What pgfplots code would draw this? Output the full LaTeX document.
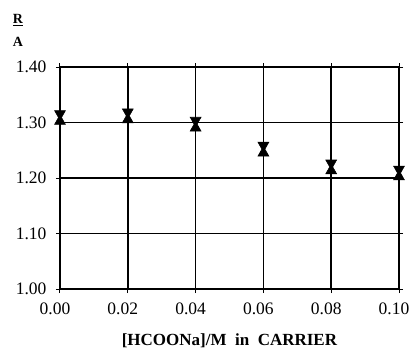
\documentclass[border=0pt]{standalone}
\usepackage{fontspec}
\setmainfont{Liberation Serif}
\usepackage{pgfplots}
\pgfplotsset{compat=1.18}
\pgfdeclareplotmark{hourglass}{%
  \pgfpathmoveto{\pgfqpoint{-0.9\pgfplotmarksize}{1.15\pgfplotmarksize}}%
  \pgfpathlineto{\pgfqpoint{0.9\pgfplotmarksize}{1.15\pgfplotmarksize}}%
  \pgfpathlineto{\pgfqpoint{0.25\pgfplotmarksize}{0pt}}%
  \pgfpathlineto{\pgfqpoint{0.9\pgfplotmarksize}{-1.15\pgfplotmarksize}}%
  \pgfpathlineto{\pgfqpoint{-0.9\pgfplotmarksize}{-1.15\pgfplotmarksize}}%
  \pgfpathlineto{\pgfqpoint{-0.25\pgfplotmarksize}{0pt}}%
  \pgfpathclose
  \pgfusepathqfillstroke}
\begin{document}
\begin{tikzpicture}
\useasboundingbox (-60pt,-60pt) rectangle (351pt,289pt);
\begin{axis}[
  at={(0pt,0pt)}, anchor=origin,
  scale only axis,
  width=339pt, height=222pt,
  xmin=0, xmax=0.1, ymin=1, ymax=1.4,
  xtick={0,0.02,0.04,0.06,0.08,0.1},
  ytick={1.0,1.1,1.2,1.3,1.4},
  grid=major,
  major grid style={black, line width=1.5pt},
  axis line style={black, line width=1.5pt},
  tick style={black, line width=1pt},
  tick align=outside,
  major tick length=4pt,
  /pgf/number format/fixed,
  /pgf/number format/fixed zerofill,
  /pgf/number format/precision=2,
  /pgf/number format/assume math mode=true,
  tick label style={font=\fontsize{17.5}{20}\selectfont},
  xticklabel style={yshift=-6pt, xshift=-5pt},
  yticklabel style={xshift=-6pt},
  scaled ticks=false,
  xlabel={\textbf{[HCOONa]/M\ \ in\ \ CARRIER}},
  xlabel style={font=\fontsize{17}{19}\selectfont, yshift=-12pt},
  clip=false,
]
\addplot[only marks, mark=hourglass, mark size=6pt, mark options={fill=black, draw=black, line width=0.6pt}]
  coordinates {(0,1.309) (0.02,1.312) (0.04,1.297) (0.06,1.252) (0.08,1.220) (0.1,1.209)};
\node[font=\fontsize{14}{16}\selectfont\bfseries, inner sep=0pt] at (rel axis cs:-0.124,1.212) {\underline{R}};
\node[font=\fontsize{14}{16}\selectfont\bfseries, inner sep=0pt] at (rel axis cs:-0.124,1.113) {A};
\end{axis}
\end{tikzpicture}
\end{document}
